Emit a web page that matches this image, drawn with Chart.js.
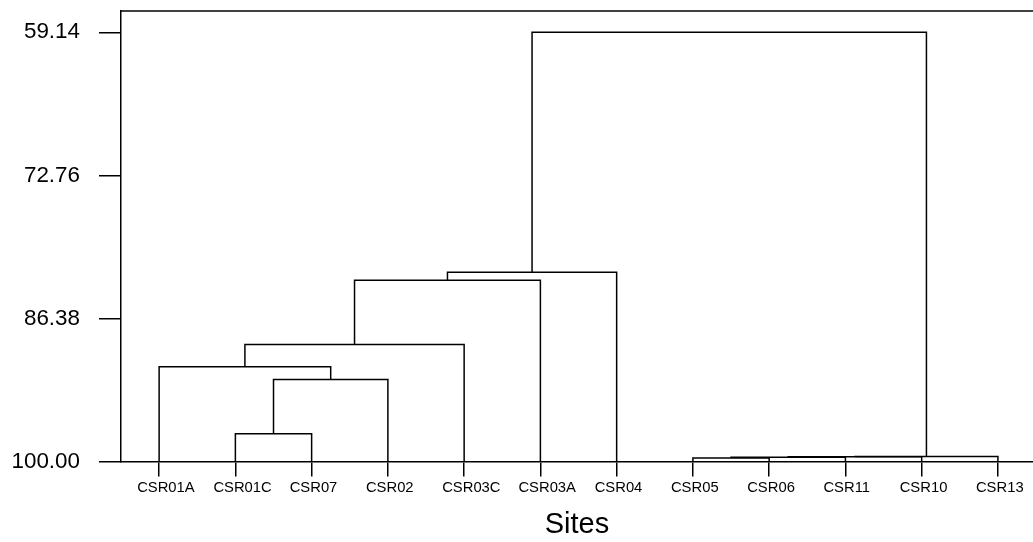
<!DOCTYPE html>
<html>
<head>
<meta charset="utf-8">
<script src="https://cdn.jsdelivr.net/npm/chart.js@4"></script>
<style>
  html, body { margin: 0; padding: 0; background: #fff; overflow: hidden; }
  #wrap { width: 1033px; height: 542px; position: relative; }
</style>
</head>
<body>
<div id="wrap"><canvas id="dendro"></canvas></div>
<script>
// Sites along the bottom (leaf order)
const sites = ['CSR01A','CSR01C','CSR07','CSR02','CSR03C','CSR03A','CSR04','CSR05','CSR06','CSR11','CSR10','CSR13'];
// Similarity tick labels
const yTicks = [59.14, 72.76, 86.38, 100.00];
// Merges: leaves are 0..11, every merge creates node 12, 13, ...
const mergeLeft   = [1,  12, 0,  14, 15, 16, 7,  18, 19, 20, 17];
const mergeRight  = [2,  3,  13, 4,  5,  6,  8,  9,  10, 11, 21];
const mergeHeight = [97.36, 92.20, 90.99, 88.87, 82.74, 81.98, 99.68, 99.60, 99.55, 99.52, 59.14];

// node positions (x = leaf slot, y = similarity level)
const nodeX = sites.map((s, i) => i + 1);
const nodeY = sites.map(() => 100);
mergeLeft.forEach((l, i) => {
  const r = mergeRight[i];
  nodeX.push((nodeX[l] + nodeX[r]) / 2);
  nodeY.push(mergeHeight[i]);
});

const datasets = mergeLeft.map((l, i) => {
  const r = mergeRight[i];
  const h = mergeHeight[i];
  return {
    data: [
      { x: nodeX[l], y: nodeY[l] },
      { x: nodeX[l], y: h },
      { x: nodeX[r], y: h },
      { x: nodeX[r], y: nodeY[r] }
    ],
    borderColor: '#000',
    borderWidth: 1.5,
    pointRadius: 0,
    fill: false,
    tension: 0
  };
});

// top frame line
const topLine = {
  id: 'topLine',
  afterDraw(chart) {
    const { ctx, chartArea } = chart;
    ctx.save();
    ctx.strokeStyle = '#000';
    ctx.lineWidth = 1.5;
    ctx.beginPath();
    ctx.moveTo(chartArea.left, chartArea.top);
    ctx.lineTo(chart.width, chartArea.top);
    ctx.stroke();
    ctx.restore();
  }
};

new Chart(document.getElementById('dendro'), {
  type: 'line',
  data: { datasets },
  plugins: [topLine],
  options: {
    responsive: true,
    maintainAspectRatio: false,
    animation: false,
    layout: { padding: { top: 11, left: 0, right: 0, bottom: 0 } },
    plugins: {
      legend: { display: false },
      tooltip: { enabled: false }
    },
    scales: {
      x: {
        type: 'linear',
        min: 0.5,
        max: 12.46,
        afterFit: (scale) => {
          scale.paddingLeft = 0;
          scale.paddingRight = 0;
        },
        afterBuildTicks: (scale) => { scale.ticks = sites.map((s, i) => ({ value: i + 1 })); },
        ticks: {
          autoSkip: false,
          maxRotation: 0,
          padding: 3,
          align: 'start',
          labelOffset: -22,
          color: '#000',
          font: { family: 'Liberation Sans, Arial, sans-serif', size: 14.8 },
          callback: (v) => sites[v - 1]
        },
        grid: { drawOnChartArea: false, drawTicks: true, tickLength: 15, color: '#000', lineWidth: 1.5 },
        border: { display: true, color: '#000', width: 1.5 },
        title: {
          display: true,
          text: 'Sites',
          color: '#000',
          font: { family: 'Liberation Sans, Arial, sans-serif', size: 29 },
          padding: { top: 7, bottom: 0 }
        }
      },
      y: {
        type: 'linear',
        reverse: true,
        min: 57.11,
        max: 100,
        afterFit: (scale) => {
          scale.width = 121;
          scale.paddingTop = 0;
          scale.paddingBottom = 0;
        },
        afterBuildTicks: (scale) => { scale.ticks = yTicks.map(v => ({ value: v })); },
        ticks: {
          padding: 19,
          color: '#000',
          font: { family: 'Liberation Sans, Arial, sans-serif', size: 22.4 },
          callback: (v) => Number(v).toFixed(2)
        },
        grid: { drawOnChartArea: false, drawTicks: true, tickLength: 22, color: '#000', lineWidth: 1.5 },
        border: { display: true, color: '#000', width: 1.5 }
      }
    }
  }
});
</script>
</body>
</html>
